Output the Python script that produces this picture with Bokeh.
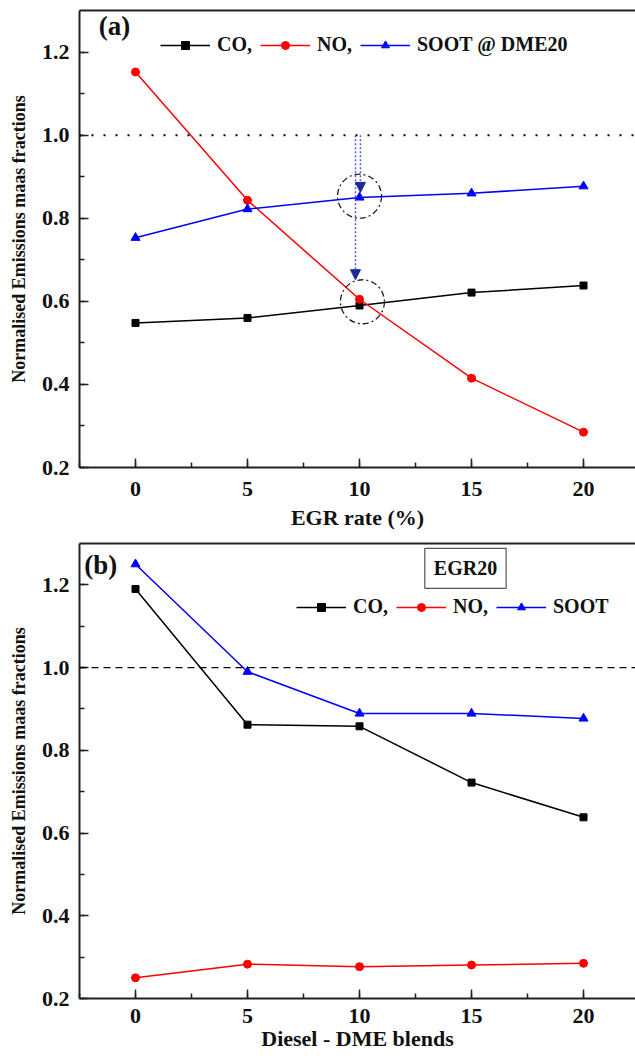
from bokeh.plotting import figure
from bokeh.layouts import column
from bokeh.models import (Range1d, SingleIntervalTicker, PrintfTickFormatter, LinearAxis,
                          FixedTicker, Span, Legend, LegendItem, Label, Arrow, NormalHead)
from bokeh.embed import file_html
from bokeh.resources import INLINE

# ---------------- data ----------------
x_vals = [0, 5, 10, 15, 20]
x_ticks = [0, 5, 10, 15, 20]

co_a = [0.548, 0.560, 0.590, 0.621, 0.638]
no_a = [1.152, 0.843, 0.605, 0.415, 0.285]
soot_a = [0.753, 0.822, 0.850, 0.860, 0.877]

co_b = [1.190, 0.862, 0.858, 0.722, 0.638]
no_b = [0.250, 0.283, 0.277, 0.281, 0.285]
soot_b = [1.250, 0.990, 0.889, 0.889, 0.877]

ref_level = 1.0
labels_a = ["CO,", "NO,", "SOOT @ DME20"]
labels_b = ["CO,", "NO,", "SOOT"]

# annotation anchors (panel a): highlight circles and arrows
circle_x = [10.0, 10.13]
circle_y = [0.853, 0.599]
arrow_x = [9.82, 10.04]
arrow_y_end = [0.652, 0.862]

FONT = "Liberation Serif"
X_RANGE = (-2.5, 22.32)
Y_RANGE = (0.2, 1.30)


def make_panel(xlabel, min_bottom, frame_h, tick_standoff, label_standoff):
    p = figure(frame_width=556, frame_height=frame_h,
               min_border_left=79, min_border_right=0, min_border_top=10,
               min_border_bottom=min_bottom,
               x_range=Range1d(*X_RANGE), y_range=Range1d(*Y_RANGE),
               output_backend="svg", toolbar_location=None,
               background_fill_color="white", border_fill_color="white")
    p.outline_line_color = None
    p.xgrid.visible = False
    p.ygrid.visible = False
    p.xaxis.ticker = SingleIntervalTicker(interval=5, num_minor_ticks=2)
    p.yaxis.ticker = SingleIntervalTicker(interval=0.2, num_minor_ticks=2)
    p.yaxis.formatter = PrintfTickFormatter(format="%.1f")
    for ax in (p.xaxis[0], p.yaxis[0]):
        ax.axis_line_width = 2
        ax.axis_line_color = "#222222"
        ax.major_tick_in = 9
        ax.major_tick_out = 0
        ax.minor_tick_in = 5
        ax.minor_tick_out = 0
        ax.major_tick_line_width = 1.5
        ax.minor_tick_line_width = 1.5
        ax.major_tick_line_color = "#222222"
        ax.minor_tick_line_color = "#222222"
        ax.major_label_text_font = FONT
        ax.major_label_text_font_style = "bold"
        ax.major_label_text_font_size = "22px"
        ax.major_label_text_color = "#111111"
        ax.axis_label_text_font = FONT
        ax.axis_label_text_font_style = "bold"
        ax.axis_label_text_color = "#111111"
    p.xaxis.axis_label = xlabel
    p.xaxis.axis_label_text_font_size = "22px"
    p.xaxis.major_label_standoff = tick_standoff
    p.xaxis.axis_label_standoff = label_standoff
    p.yaxis.axis_label = "Normalised Emissions maas fractions"
    p.yaxis.axis_label_text_font_size = "18px"
    p.yaxis.major_label_standoff = 10
    p.yaxis.axis_label_standoff = 10
    top = LinearAxis(ticker=FixedTicker(ticks=[]), axis_line_width=2,
                     axis_line_color="#222222", major_label_text_font_size="0px")
    p.add_layout(top, "above")
    return p


def add_series(p, co, no, soot, labels, legend_loc):
    r1 = p.line(x_vals, co, line_color="black", line_width=1.5)
    m1 = p.scatter(x_vals, co, marker="square", size=7, color="black")
    r2 = p.line(x_vals, no, line_color="red", line_width=1.5)
    m2 = p.scatter(x_vals, no, marker="circle", size=8, color="red")
    r3 = p.line(x_vals, soot, line_color="blue", line_width=1.5)
    m3 = p.scatter(x_vals, soot, marker="triangle", size=9, color="blue")
    leg = Legend(items=[LegendItem(label=labels[0], renderers=[r1, m1]),
                        LegendItem(label=labels[1], renderers=[r2, m2]),
                        LegendItem(label=labels[2], renderers=[r3, m3])],
                 orientation="horizontal", location=legend_loc,
                 glyph_width=50, glyph_height=20, label_standoff=7, spacing=8,
                 padding=0, margin=0, border_line_color=None,
                 background_fill_alpha=0,
                 label_text_font=FONT, label_text_font_style="bold",
                 label_text_font_size="20px", label_text_color="#111111")
    p.add_layout(leg, "center")


# ---------------- panel (a) ----------------
pa = make_panel("EGR rate (%)", 66, 457, 14, 6)
pa.add_layout(Span(location=ref_level, dimension="width", line_color="black",
                   line_width=2, line_dash="2 10"))
for ax_, ay_ in zip(arrow_x, arrow_y_end):
    pa.add_layout(Arrow(x_start=ax_, y_start=ref_level, x_end=ax_, y_end=ay_,
                        line_color="#4a5ae0", line_width=1.5, line_dash="2 2",
                        end=NormalHead(size=10, fill_color="#1a2a9a",
                                       line_color="#1a2a9a")))
add_series(pa, co_a, no_a, soot_a, labels_a, (81, 411))
pa.scatter(circle_x, circle_y, marker="circle", size=44, fill_color=None,
           line_color="#222222", line_width=1.3, line_dash="6 3 2 3")
pa.add_layout(Label(x=-0.94, y=1.262, text="(a)", text_font=FONT,
                    text_font_style="bold", text_font_size="27px",
                    text_align="center", text_baseline="middle",
                    text_color="#111111"))

# ---------------- panel (b) ----------------
pb = make_panel("Diesel - DME blends", 60, 455, 10, 0)
pb.add_layout(Span(location=ref_level, dimension="width", line_color="black",
                   line_width=1.3, line_dash="7 5"))
add_series(pb, co_b, no_b, soot_b, labels_b, (217, 380))
pb.add_layout(Label(x=-1.55, y=1.248, text="(b)", text_font=FONT,
                    text_font_style="bold", text_font_size="27px",
                    text_align="center", text_baseline="middle",
                    text_color="#111111"))
pb.add_layout(Label(x=14.73, y=1.240, text="EGR20", text_font=FONT,
                    text_font_style="bold", text_font_size="20px",
                    text_align="center", text_baseline="middle",
                    text_color="#111111", border_line_color="#555555",
                    border_line_width=1.2, padding=9,
                    background_fill_color="white"))

layout = column(pa, pb, spacing=0)
open("out.html", "w").write(file_html(layout, INLINE))
